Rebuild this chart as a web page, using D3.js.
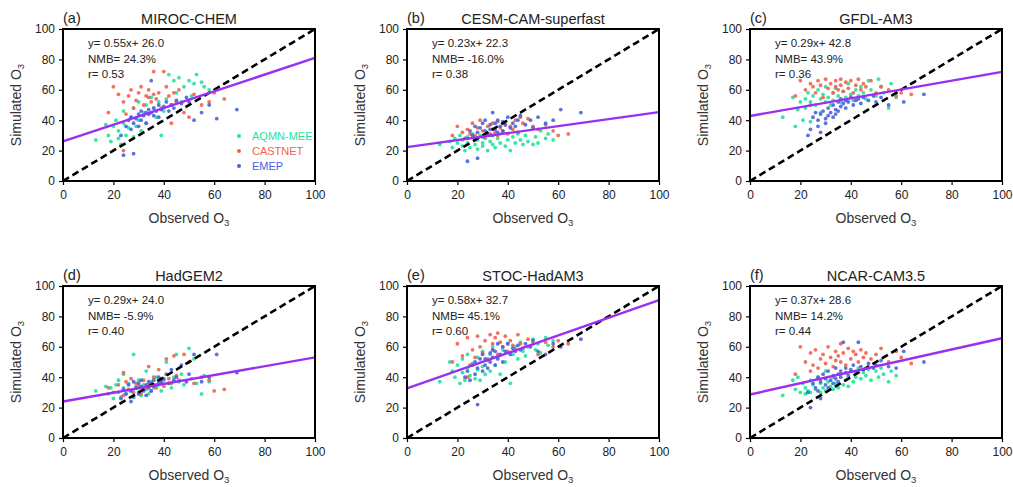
<!DOCTYPE html>
<html>
<head>
<meta charset="utf-8">
<script src="https://cdn.jsdelivr.net/npm/d3@7"></script>
<style>
  body { margin: 0; background: #fff; }
  svg { font-family: "Liberation Sans", Arial, sans-serif; }
  .frame { fill: none; stroke: #000; stroke-width: 2; }
  .axis path { display: none; }
  .axis line { stroke: #000; stroke-width: 1.2; }
  .axis text { font-size: 12px; fill: #222; }
  .stats { font-size: 11.5px; fill: #222; }
  .title { font-size: 14.5px; fill: #222; }
  .label { font-size: 14px; fill: #333; }
</style>
</head>
<body>
<svg width="1013" height="487"></svg>
<script>
var models = ["MIROC-CHEM", "CESM-CAM-superfast", "GFDL-AM3", "HadGEM2", "STOC-HadAM3", "NCAR-CAM3.5"];
var panel_tags = ["(a)", "(b)", "(c)", "(d)", "(e)", "(f)"];
var networks = ["AQMN-MEE", "CASTNET", "EMEP"];
var slopes = [0.55, 0.23, 0.29, 0.29, 0.58, 0.37];
var intercepts = [26.0, 22.3, 42.8, 24.0, 32.7, 28.6];
var nmb_labels = ["24.3%", "-16.0%", "43.9%", "-5.9%", "45.1%", "14.2%"];
var r_labels = ["0.53", "0.38", "0.36", "0.40", "0.60", "0.44"];
var tick_values = [0, 20, 40, 60, 80, 100];

// observed O3 per network (same sites in every panel)
var obs_aqmn = [13,17,18,19,20,21,22,22,23,24,24,25,26,27,28,28,29,30,30,31,32,33,33,34,35,36,37,38,39,40,41,42,43,44,45,46,47,48,50,51,52,53,55,56,58];
var obs_castnet = [18,20,22,24,24,25,26,27,28,29,30,31,32,33,34,34,35,36,36,37,38,39,40,41,42,43,44,45,46,48,50,52,55,58,60,64];
var obs_emep = [23,24,25,26,27,27,28,28,29,30,30,31,31,32,33,33,34,34,35,35,36,36,37,38,38,39,40,41,42,43,44,45,47,49,50,52,55,58,61,69];

// simulated O3, one array per panel per network
var sim_aqmn = [
  [27,37,30,26,36,40,28,33,24,46,38,30,35,42,29,48,36,40,52,33,45,38,50,44,55,48,42,52,30,46,54,70,50,66,58,68,52,62,66,56,64,70,65,62,60],
  [24,26,22,28,25,30,23,27,20,29,25,22,31,24,27,21,30,25,23,28,20,26,30,24,22,28,25,32,23,27,20,29,25,31,27,24,30,26,24,29,25,33,28,31,27],
  [42,55,36,47,52,40,54,48,58,52,39,56,50,60,54,45,57,52,62,55,50,58,53,61,56,52,59,55,64,57,53,60,56,62,58,54,66,60,56,67,62,58,48,64,55],
  [31,34,29,33,26,35,30,38,27,33,42,29,36,31,55,27,34,38,30,28,35,44,32,29,37,33,40,35,31,38,50,36,33,40,55,37,42,35,59,39,52,36,29,41,37],
  [37,50,44,40,48,36,43,52,38,46,55,41,49,39,53,45,38,57,47,42,51,55,44,60,48,53,42,58,50,62,36,55,60,52,63,57,54,60,65,58,62,56,66,61,64],
  [28,38,32,40,30,36,29,33,31,38,30,35,32,40,30,36,33,44,31,37,34,40,32,36,33,42,35,38,34,44,37,40,46,39,43,41,45,38,44,40,46,42,37,44,41]
];
var sim_castnet = [
  [45,62,57,20,52,44,56,60,48,53,58,62,50,56,55,60,52,72,57,54,58,48,72,62,56,38,58,52,60,45,42,57,50,52,58,54],
  [30,36,32,28,34,31,38,30,35,40,33,29,36,31,38,34,32,39,30,35,33,37,31,36,34,40,32,42,38,41,36,34,37,33,30,31],
  [56,66,60,64,50,62,58,66,63,55,67,61,64,58,66,62,60,67,63,59,65,61,66,58,63,67,60,64,62,66,58,62,60,56,58,57],
  [33,30,35,43,28,37,32,39,30,36,34,29,38,33,36,47,31,40,35,33,45,37,34,52,39,36,54,41,38,55,50,36,40,38,31,32],
  [50,62,54,40,66,48,58,53,67,60,56,64,52,68,62,58,66,69,55,63,60,67,57,64,61,58,68,62,59,65,62,55,63,60,64,62],
  [42,60,50,44,56,48,58,46,52,55,49,60,53,47,57,51,54,62,50,56,48,59,52,57,55,50,58,53,56,52,55,59,50,57,53,49]
];
var sim_emep = [
  [30,17,36,40,34,42,18,38,41,44,36,46,40,43,45,38,47,44,66,45,48,43,46,50,42,47,49,52,46,50,48,53,51,55,52,40,45,50,41,47],
  [28,13,33,30,36,27,15,32,35,29,38,33,40,31,37,34,45,30,38,34,40,32,36,39,33,37,42,35,38,36,40,43,37,40,35,42,38,40,47,45],
  [30,34,42,45,40,36,44,32,46,41,38,48,43,45,50,42,47,44,52,46,49,54,51,53,48,52,55,50,53,54,51,55,53,56,52,55,50,58,52,57],
  [26,32,29,35,24,31,37,27,33,36,29,34,38,31,35,28,37,33,36,31,38,34,35,40,36,37,39,42,36,45,38,40,48,37,42,55,37,40,55,43],
  [40,44,38,48,42,50,22,46,52,44,55,48,52,46,56,50,58,53,48,57,52,62,55,60,50,57,62,55,59,57,61,58,62,60,64,57,55,62,60,65],
  [30,20,36,33,40,31,26,37,42,35,39,33,44,38,41,36,46,39,42,37,44,40,63,43,46,41,45,48,43,63,47,45,49,46,48,51,47,46,57,50]
];

var colors = {"AQMN-MEE": "#1fe39b", "CASTNET": "#f2624b", "EMEP": "#4a63dc"};
var obs_by_network = [obs_aqmn, obs_castnet, obs_emep];
var sim_by_network = [sim_aqmn, sim_castnet, sim_emep];

var svg = d3.select("svg"),
    plot_w = 252,
    plot_h = 152,
    lefts = [63, 407, 750],
    tops = [29, 286];

var x = d3.scaleLinear().domain([0, 100]).range([0, plot_w]);
var y = d3.scaleLinear().domain([0, 100]).range([plot_h, 0]);

function o3Label(sel, main) {
    sel.append("tspan").text(main + "O");
    sel.append("tspan").attr("baseline-shift", "-28%").attr("font-size", "9.5px").text("3");
}

for (var i = 0; i < models.length; i++) {
    var g = svg.append("g")
        .attr("transform", "translate(" + lefts[i % 3] + "," + tops[Math.floor(i / 3)] + ")");

    // panel tag and title
    g.append("text").attr("class", "title").attr("x", 0).attr("y", -6).text(panel_tags[i]);
    g.append("text").attr("class", "title").attr("x", plot_w / 2).attr("y", -5)
        .attr("text-anchor", "middle").text(models[i]);

    // axes
    g.append("g").attr("class", "axis")
        .attr("transform", "translate(0," + plot_h + ")")
        .call(d3.axisBottom(x).tickValues(tick_values).tickSize(4).tickPadding(5));
    g.append("g").attr("class", "axis")
        .call(d3.axisLeft(y).tickValues(tick_values).tickSize(4).tickPadding(4));

    g.append("text").attr("class", "label")
        .attr("x", plot_w / 2).attr("y", plot_h + 42)
        .attr("text-anchor", "middle").call(o3Label, "Observed ");
    g.append("text").attr("class", "label")
        .attr("transform", "translate(-42," + (plot_h / 2) + ") rotate(-90)")
        .attr("text-anchor", "middle").call(o3Label, "Simulated ");

    // scatter points
    for (var k = 0; k < networks.length; k++) {
        var obs = obs_by_network[k], sim = sim_by_network[k][i];
        var pts = obs.map(function(v, j) { return [v, sim[j]]; });
        g.append("g").selectAll("circle").data(pts).enter().append("circle")
            .attr("cx", function(d) { return x(d[0]); })
            .attr("cy", function(d) { return y(d[1]); })
            .attr("r", 1.9)
            .attr("fill", colors[networks[k]])
            .attr("fill-opacity", 0.9);
    }

    // 1:1 line
    g.append("line")
        .attr("x1", x(0)).attr("y1", y(0)).attr("x2", x(100)).attr("y2", y(100))
        .attr("stroke", "#000").attr("stroke-width", 2.6).attr("stroke-dasharray", "7,4");

    // regression line
    g.append("line")
        .attr("x1", x(0)).attr("y1", y(intercepts[i]))
        .attr("x2", x(100)).attr("y2", y(intercepts[i] + slopes[i] * 100))
        .attr("stroke", "#9b2ff0").attr("stroke-width", 2.4);

    g.append("rect").attr("class", "frame").attr("width", plot_w).attr("height", plot_h);

    // stats text
    var stats = ["y= " + slopes[i].toFixed(2) + "x+ " + intercepts[i].toFixed(1),
                 "NMB= " + nmb_labels[i], "r= " + r_labels[i]];
    g.selectAll(".stats").data(stats).enter().append("text")
        .attr("class", "stats")
        .attr("x", 25)
        .attr("y", function(d, j) { return 18 + j * 15.5; })
        .text(function(d) { return d; });

    // legend only in first panel
    if (i === 0) {
        var leg = g.append("g").attr("transform", "translate(176,107)");
        networks.forEach(function(n, j) {
            leg.append("circle").attr("cx", 0).attr("cy", j * 15).attr("r", 2).attr("fill", colors[n]);
            leg.append("text").attr("x", 13).attr("y", j * 15).attr("dy", "0.35em")
                .attr("font-size", "11px").attr("fill", colors[n]).text(n);
        });
    }
}
</script>
</body>
</html>
